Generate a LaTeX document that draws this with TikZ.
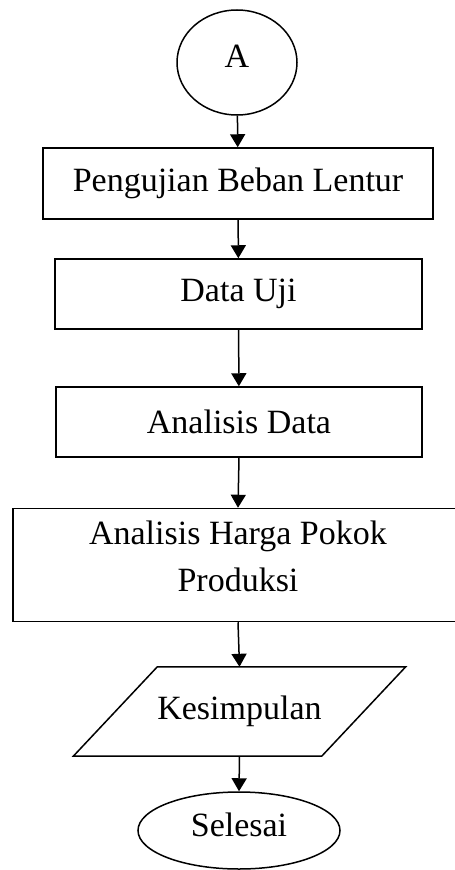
\documentclass[tikz,border=0pt]{standalone}
\usepackage{fontspec}
\setmainfont{Liberation Serif}
\usetikzlibrary{shapes.geometric,arrows.meta}

\begin{document}
\begin{tikzpicture}[x=1pt,y=-1pt]
\tikzstyle{every node}+=[inner sep=0pt,font=\fontsize{34}{47}\selectfont]
\tikzstyle{proses}=[draw=black,line width=1.5pt,rectangle]
\tikzstyle{terminal}=[draw=black,line width=1.5pt,ellipse]
\tikzstyle{panah}=[draw=black,line width=1.5pt,-{Triangle[length=13pt,width=15pt]}]
\useasboundingbox (0,0) rectangle (455,870);
\node [terminal,minimum width=120pt,minimum height=105pt] (A) at (237,62.5) {};
\node at (237,56) {A};
\node [proses,minimum width=390pt,minimum height=71pt] (uji) at (238,183.5) {Pengujian Beban Lentur};
\node [proses,minimum width=367pt,minimum height=70pt] (data) at (238.5,294) {Data Uji};
\node [proses,minimum width=366pt,minimum height=70pt] (analisis) at (239,422) {Analisis Data};
\node [proses,minimum width=450pt,minimum height=113pt] (hpp) at (238,565) {};
\node [align=center] at (238,556) {Analisis Harga Pokok\\Produksi};
\node [minimum width=248pt,minimum height=89pt] (kes) at (239.5,711.5) {Kesimpulan};
\draw [black,line width=1.5pt] ([xshift=42pt]kes.north west) -- ([xshift=42pt]kes.north east) -- ([xshift=-42pt]kes.south east) -- ([xshift=-42pt]kes.south west) -- cycle;
\node [terminal,minimum width=202pt,minimum height=77pt] (selesai) at (239,830.5) {};
\node at (239,825) {Selesai};
\draw [panah] (A) -- (uji);
\draw [panah] (uji) -- (data);
\draw [panah] (data) -- (analisis);
\draw [panah] (analisis.south) -- (hpp.north);
\draw [panah] (hpp.south) -- (kes.north);
\draw [panah] (kes.south) -- (selesai.north);
\end{tikzpicture}
\end{document}
